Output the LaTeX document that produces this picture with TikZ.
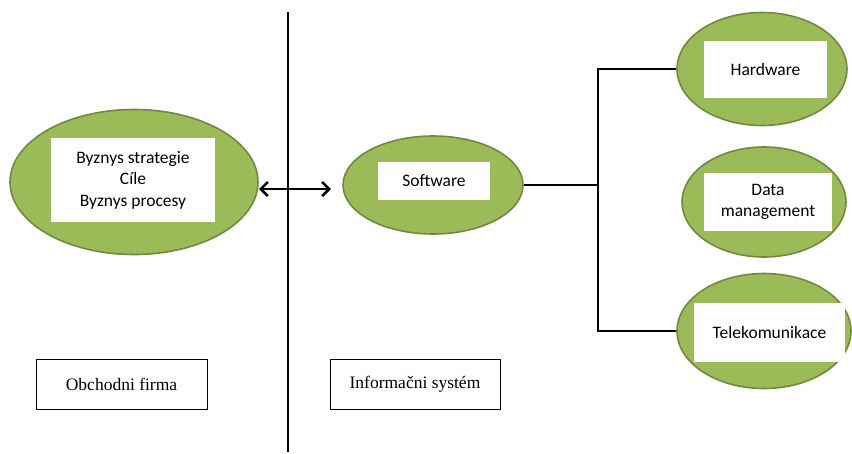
\documentclass[tikz,border=0pt]{standalone}
\usepackage{fontspec}
\setmainfont{Liberation Serif}
\newfontfamily\calib{Carlito}
\usetikzlibrary{shapes.geometric,arrows.meta}
\definecolor{egreen}{HTML}{9BBB59}
\definecolor{eborder}{HTML}{71893F}
\begin{document}
\begin{tikzpicture}[x=1pt,y=-1pt,
  oval/.style={ellipse,draw=eborder,fill=egreen,line width=1.6pt,inner sep=0pt},
  wbox/.style={fill=white,inner sep=0pt,align=center,font=\calib\fontsize{17.5}{21.5}\selectfont},
  lbox/.style={draw=black,line width=1pt,fill=white,inner sep=0pt,font=\fontsize{17.5}{20}\selectfont},
  conn/.style={line width=2.8pt,black}]
\useasboundingbox (0,0) rectangle (852,453);
% divider
\coordinate (dtop) at (288,12);
\coordinate (dbot) at (288,452);
\draw[line width=1.6pt] (dtop) -- (dbot);
% left
\node[oval,minimum width=248pt,minimum height=145pt] (biz) at (134,182) {};
\node[wbox,minimum width=164pt,minimum height=84pt] (bizt) at (133,180) {Byznys strategie\\C\'ile\\Byznys procesy};
% software
\node[oval,minimum width=180pt,minimum height=98pt] (sw) at (433,185) {};
\node[wbox,minimum width=112pt,minimum height=38pt] (swt) at (434,181) {Software};
% right ovals
\node[oval,minimum width=170pt,minimum height=113pt] (hw) at (762,69) {};
\node[wbox,minimum width=123pt,minimum height=57pt] (hwt) at (765.5,69.5) {Hardware};
\node[oval,minimum width=164pt,minimum height=110pt] (dm) at (764,202) {};
\node[wbox,minimum width=128pt,minimum height=58pt] (dmt) at (768,202) {Data\\management};
\node[oval,minimum width=174pt,minimum height=115pt] (tk) at (764,331) {};
\node[wbox,minimum width=151pt,minimum height=59pt] (tkt) at (769.5,332.5) {Telekomunikace};
% labels
\node[lbox,minimum width=171pt,minimum height=50pt] (of) at (121.5,384) {Obchodni firma};
\node[lbox,minimum width=170pt,minimum height=50pt] (is) at (415,384) {Informa\v{c}ni syst\'em};
% arrow
\coordinate (aL) at (259,189);
\coordinate (aR) at (331,189);
\draw[line width=2.6pt,{Straight Barb[length=7pt,width=14pt]}-{Straight Barb[length=7pt,width=14pt]}] (aL) -- (aR);
% tree
\coordinate (jx) at (598,185);
\draw[conn] (sw.east) -- (jx);
\draw[conn] (hw.west) -| (jx);
\draw[conn] (tk.west) -| (jx);
\end{tikzpicture}
\end{document}
